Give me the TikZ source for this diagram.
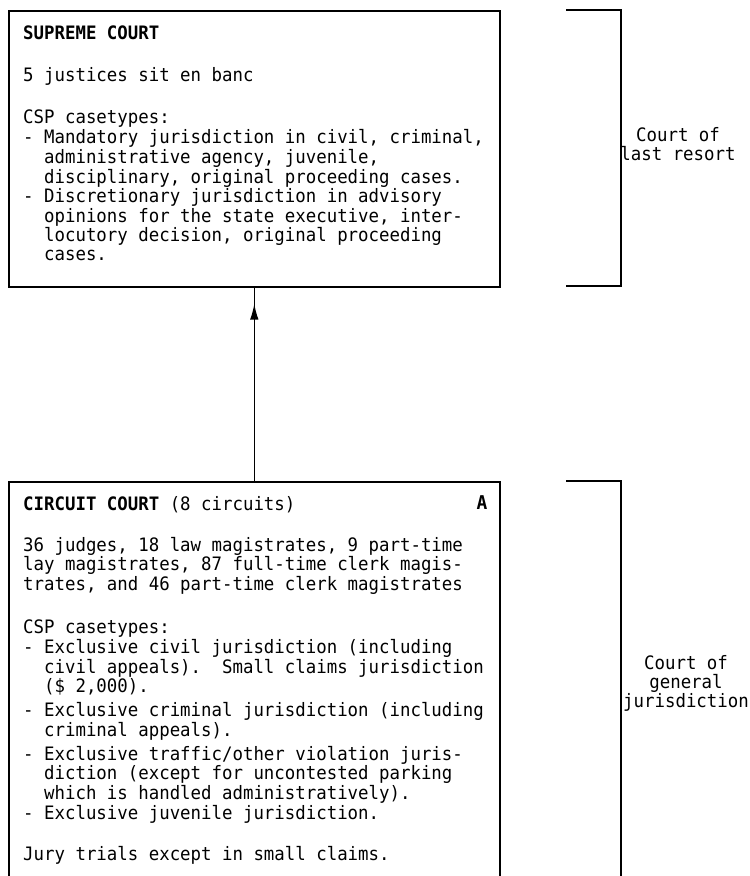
\documentclass[tikz,border=0pt]{standalone}
\usepackage{fontspec}
\newfontfamily\typefont{DejaVu Sans Mono}[FakeStretch=0.94]
\usetikzlibrary{decorations.markings,arrows.meta}
\newcommand\ind{\phantom{xx}}
\begin{document}
\begin{tikzpicture}[x=1pt,y=1pt,
  courtbox/.style={draw, line width=1.6pt, rectangle, inner sep=0pt, anchor=north west},
  bodytext/.style={anchor=base west, inner sep=0pt, font={\typefont\fontsize{18.5}{18.5}\selectfont}},
  levellabel/.style={anchor=base, inner sep=0pt, font={\typefont\fontsize{18.5}{17}\selectfont}},
  bracket/.style={draw, line width=1.6pt},
  appeal/.style={line width=1.4pt, postaction={decorate},
    decoration={markings, mark=at position -16pt with {\arrow{Latex[length=16pt,width=8.5pt]}}}}
]
\clip (0,0) rectangle (750,-876);
\fill[white] (0,0) rectangle (750,-876);

% court boxes
\node[courtbox, minimum width=491pt, minimum height=276pt] (supreme) at (8,-10) {};
\node[courtbox, minimum width=491pt, minimum height=440pt] (circuit) at (8,-481) {};

% supreme court text
\node[bodytext] (supremetext) at (23,-39) {\begin{tabular}[t]{@{}l@{}}
\textbf{SUPREME COURT}\\[22.5pt]
5 justices sit en banc\\[23.5pt]
CSP casetypes:\\
- Mandatory jurisdiction in civil, criminal,\\
\ind administrative agency, juvenile,\\
\ind disciplinary, original proceeding cases.\\
- Discretionary jurisdiction in advisory\\
\ind opinions for the state executive, inter-\\
\ind locutory decision, original proceeding\\
\ind cases.
\end{tabular}};

% circuit court text
\node[bodytext] (circuittext) at (23,-510) {\begin{tabular}[t]{@{}l@{}}
\textbf{CIRCUIT COURT} (8 circuits)\\[21.5pt]
36 judges, 18 law magistrates, 9 part-time\\
lay magistrates, 87 full-time clerk magis-\\
trates, and 46 part-time clerk magistrates\\[24pt]
CSP casetypes:\\
- Exclusive civil jurisdiction (including\\
\ind civil appeals).\ \ Small claims jurisdiction\\
\ind (\$ 2,000).\\[4pt]
- Exclusive criminal jurisdiction (including\\
\ind criminal appeals).\\[4pt]
- Exclusive traffic/other violation juris-\\
\ind diction (except for uncontested parking\\
\ind which is handled administratively).\\
- Exclusive juvenile jurisdiction.\\[21.5pt]
Jury trials except in small claims.
\end{tabular}};

\node[bodytext, anchor=base, font={\typefont\bfseries\fontsize{19}{19}\selectfont}] (grade) at (482,-509) {A};

% appeal route
\draw[appeal] (circuit.north) -- (supreme.south);

% jurisdiction brackets
\draw[bracket] (566,-10) -- (621,-10) -- (621,-286) -- (566,-286);
\draw[bracket] (566,-481) -- (621,-481) -- (621,-900);

\node[levellabel] (lastresort) at (678,-141) {\begin{tabular}[t]{@{}c@{}}Court of\\last resort\end{tabular}};
\node[levellabel] (general) at (686,-669) {\begin{tabular}[t]{@{}c@{}}Court of\\general\\jurisdiction\end{tabular}};
\end{tikzpicture}
\end{document}
